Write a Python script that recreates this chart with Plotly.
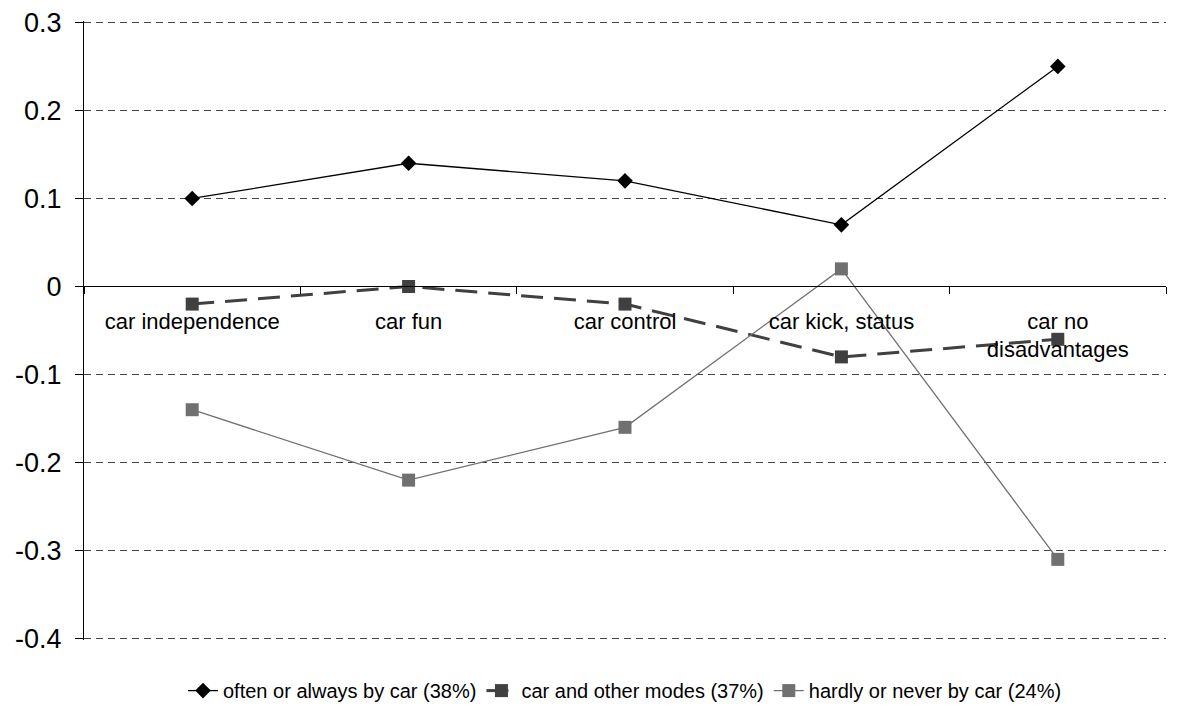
import plotly.graph_objects as go

categories = ["car independence", "car fun", "car control", "car kick, status", "car no<br>disadvantages"]
often_car = [0.10, 0.14, 0.12, 0.07, 0.25]
car_other = [-0.02, 0.00, -0.02, -0.08, -0.06]
hardly_car = [-0.14, -0.22, -0.16, 0.02, -0.31]
series_names = ["often or always by car (38%)", "car and other modes (37%)", "hardly or never by car (24%)"]
y_tickvals = [0.3, 0.2, 0.1, 0, -0.1, -0.2, -0.3, -0.4]
y_ticktext = ["0.3", "0.2", "0.1", "0", "-0.1", "-0.2", "-0.3", "-0.4"]

FONT = "Arial, Liberation Sans, sans-serif"
y_lo, y_hi = -0.4016, 0.3016
zero_pos = (0 - y_lo) / (y_hi - y_lo)

fig = go.Figure()
fig.add_trace(go.Scatter(x=categories, y=often_car, name=series_names[0], mode="lines+markers",
                         line=dict(color="#000000", width=1.3),
                         marker=dict(symbol="diamond", size=12, color="#000000")))
fig.add_trace(go.Scatter(x=categories, y=car_other, name=series_names[1], mode="lines+markers",
                         line=dict(color="#404040", width=3, dash="22px,11px"),
                         marker=dict(symbol="square", size=13, color="#404040")))
fig.add_trace(go.Scatter(x=categories, y=hardly_car, name=series_names[2], mode="lines+markers",
                         line=dict(color="#707070", width=1.3),
                         marker=dict(symbol="square", size=13, color="#707070")))

# page body has an 8px default margin, so margins are compensated
fig.update_layout(
    width=1184, height=713,
    margin=dict(l=76, r=26, t=13, b=80),
    paper_bgcolor="white", plot_bgcolor="white",
    font=dict(family=FONT, color="#000000"),
    showlegend=True,
    legend=dict(orientation="h", x=0.5, xanchor="center", y=-0.08, yanchor="middle",
                font=dict(size=20, family=FONT), tracegroupgap=0),
    xaxis=dict(type="category", anchor="free", position=zero_pos, automargin=False,
               showline=True, linecolor="#000000", linewidth=1,
               ticks="outside", tickson="boundaries", ticklen=7, tickcolor="#000000",
               ticklabelstandoff=15,
               showgrid=False, tickfont=dict(size=22, family=FONT, color="#000000"),
               range=[-0.5, 4.5], zeroline=False),
    yaxis=dict(range=[y_lo, y_hi], tickvals=y_tickvals, ticktext=y_ticktext, automargin=False,
               showline=True, linecolor="#000000", linewidth=1, ticklabeloverflow="allow",
               ticks="outside", ticklen=8, tickcolor="#000000", ticklabelstandoff=8,
               showgrid=True, gridcolor="#444444", griddash="7px,5px", gridwidth=1,
               zeroline=False, tickfont=dict(size=27, family=FONT, color="#000000")),
)

fig.write_html("out.html")
